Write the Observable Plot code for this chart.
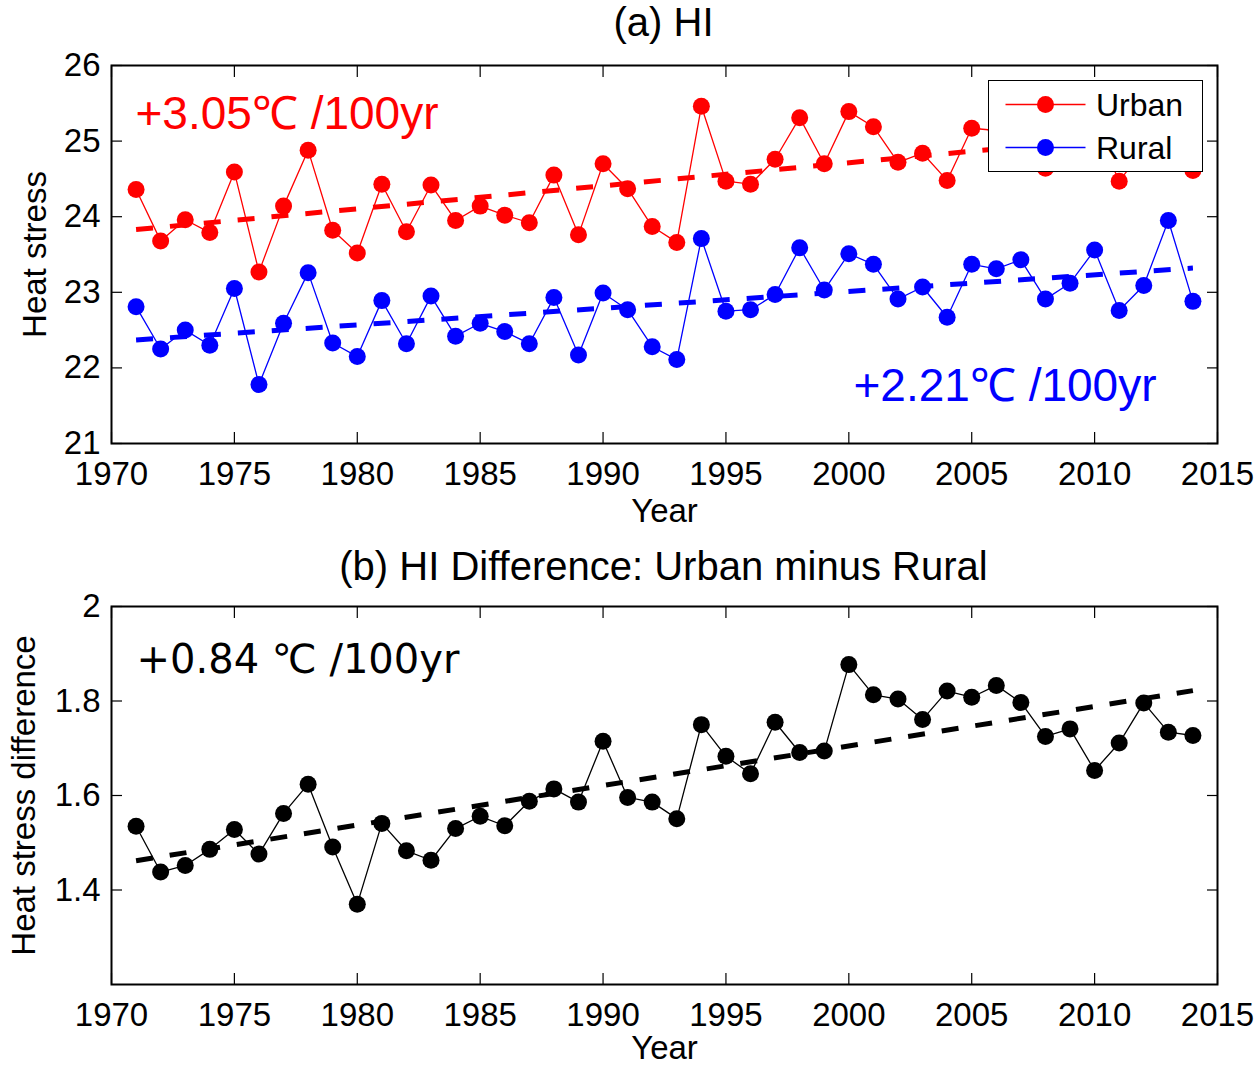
<!DOCTYPE html>
<html><head><meta charset="utf-8">
<script src="https://cdn.jsdelivr.net/npm/d3@7"></script>
<script src="https://cdn.jsdelivr.net/npm/@observablehq/plot@0.6"></script>
<style>
body{margin:0;background:#fff;}
#wrap{position:relative;width:1259px;height:1066px;font-family:"Liberation Sans",Arial,Helvetica,sans-serif;color:#000;}
.title{position:absolute;left:111px;width:1105px;text-align:center;font-size:40px;line-height:40px;white-space:nowrap;}
#pa{position:absolute;left:0;top:0;}
#pb{position:absolute;left:0;top:540px;}
#legend{position:absolute;left:988px;top:80px;width:215px;height:92px;box-sizing:border-box;border:1.5px solid #000;background:#fff;}
</style>
</head><body>
<div id="wrap">
  <div id="pa"></div>
  <div id="pb"></div>
  <div class="title" style="top:2px">(a) HI</div>
  <div class="title" style="top:546px">(b) HI Difference: Urban minus Rural</div>
  <div id="legend"></div>
</div>
<script>
const years = [1971,1972,1973,1974,1975,1976,1977,1978,1979,1980,
  1981,1982,1983,1984,1985,1986,1987,1988,1989,1990,
  1991,1992,1993,1994,1995,1996,1997,1998,1999,2000,
  2001,2002,2003,2004,2005,2006,2007,2008,2009,2010,
  2011,2012,2013,2014];
const urban = [24.36,23.68,23.96,23.79,24.59,23.27,24.14,24.88,23.82,23.52,
  24.43,23.80,24.42,23.95,24.14,24.02,23.92,24.55,23.76,24.70,
  24.37,23.87,23.66,25.46,24.47,24.43,24.76,25.31,24.70,25.39,
  25.19,24.72,24.84,24.48,25.17,25.14,25.23,24.64,24.86,25.21,
  24.47,24.89,25.68,24.61];
const rural = [22.81,22.25,22.50,22.30,23.05,21.78,22.59,23.26,22.33,22.15,
  22.89,22.32,22.95,22.42,22.59,22.48,22.32,22.93,22.17,22.99,
  22.77,22.28,22.11,23.71,22.75,22.77,22.97,23.59,23.03,23.51,
  23.37,22.91,23.07,22.67,23.37,23.31,23.43,22.91,23.12,23.56,
  22.76,23.09,23.95,22.88];
const diff = [1.535,1.438,1.452,1.486,1.528,1.476,1.562,1.624,1.491,1.370,
  1.541,1.483,1.463,1.530,1.556,1.536,1.588,1.614,1.586,1.715,
  1.596,1.586,1.551,1.750,1.683,1.646,1.755,1.691,1.694,1.877,
  1.813,1.804,1.761,1.821,1.808,1.833,1.797,1.725,1.741,1.653,
  1.711,1.796,1.734,1.727];
const trendYears = [1971, 2014];
const urbanTrend = [23.83, 25.14];
const ruralTrend = [22.37, 23.32];
const diffTrend = [1.462, 1.822];
const xTicks = [1970,1975,1980,1985,1990,1995,2000,2005,2010,2015];
const yTicksA = [21,22,23,24,25,26];
const yTicksB = [1.4,1.6,1.8,2];
const labelUrban = "+3.05\u2103 /100yr";
const labelRural = "+2.21\u2103 /100yr";
const labelDiff = "+0.84 \u2103 /100yr";
const seriesNames = ["Urban","Rural"];
const seriesColors = ["#ff0000","#0000ff"];

const rows = years.map((y,i)=>({year:y, urban:urban[i], rural:rural[i], diff:diff[i]}));
const trendRows = trendYears.map((y,i)=>({year:y, urban:urbanTrend[i], rural:ruralTrend[i], diff:diffTrend[i]}));

const FONT = '"Liberation Sans", Arial, Helvetica, sans-serif';
const fmt = d => String(d);

function axes(yTicks){
  return [
    Plot.axisX({anchor:"bottom", ticks:xTicks, tickSize:-11, tickPadding:29, tickFormat:fmt, label:null, fontSize:33, strokeWidth:1.2}),
    Plot.axisX({anchor:"top", ticks:xTicks, tickSize:-11, tickFormat:()=>"", label:null, strokeWidth:1.2}),
    Plot.axisY({anchor:"left", ticks:yTicks, tickSize:-11, tickPadding:22, tickFormat:fmt, label:null, fontSize:33, strokeWidth:1.2}),
    Plot.axisY({anchor:"right", ticks:yTicks, tickSize:-11, tickFormat:()=>"", label:null, strokeWidth:1.2}),
    Plot.frame({stroke:"#000", strokeWidth:2})
  ];
}

const A = Plot.plot({
  width:1259, height:540, marginLeft:111, marginRight:42, marginTop:65, marginBottom:97,
  x:{domain:[1970,2015]}, y:{domain:[21,26]},
  style:{fontFamily:FONT, fontSize:"33px", color:"#000", background:"#fff", overflow:"visible"},
  marks:[
    ...axes(yTicksA),
    Plot.line(rows,{x:"year", y:"urban", stroke:seriesColors[0], strokeWidth:1.3}),
    Plot.dot(rows,{x:"year", y:"urban", r:8.5, fill:seriesColors[0]}),
    Plot.line(rows,{x:"year", y:"rural", stroke:seriesColors[1], strokeWidth:1.3}),
    Plot.dot(rows,{x:"year", y:"rural", r:8.5, fill:seriesColors[1]}),
    Plot.line(trendRows,{x:"year", y:"urban", stroke:seriesColors[0], strokeWidth:5, strokeDasharray:"17,17", strokeLinecap:"butt"}),
    Plot.line(trendRows,{x:"year", y:"rural", stroke:seriesColors[1], strokeWidth:5, strokeDasharray:"17,17", strokeLinecap:"butt"}),
    Plot.text([labelUrban],{text:d=>d, frameAnchor:"top-left", dx:24, dy:63, textAnchor:"start", lineAnchor:"bottom", fill:seriesColors[0], fontSize:46}),
    Plot.text([labelRural],{text:d=>d, frameAnchor:"bottom-right", dx:-61, dy:-43, textAnchor:"end", lineAnchor:"bottom", fill:seriesColors[1], fontSize:46}),
    Plot.text(["Year"],{text:d=>d, frameAnchor:"bottom", dy:68, lineAnchor:"middle", textAnchor:"middle", fontSize:33}),
    Plot.text(["Heat stress"],{text:d=>d, frameAnchor:"left", dx:-76, rotate:-90, textAnchor:"middle", lineAnchor:"middle", fontSize:33})
  ]
});
document.getElementById("pa").appendChild(A);

const B = Plot.plot({
  width:1259, height:526, marginLeft:111, marginRight:42, marginTop:66, marginBottom:82,
  x:{domain:[1970,2015]}, y:{domain:[1.2,2.0]},
  style:{fontFamily:FONT, fontSize:"33px", color:"#000", background:"#fff", overflow:"visible"},
  marks:[
    ...axes(yTicksB),
    Plot.line(rows,{x:"year", y:"diff", stroke:"#000", strokeWidth:1.3}),
    Plot.dot(rows,{x:"year", y:"diff", r:8.5, fill:"#000"}),
    Plot.line(trendRows,{x:"year", y:"diff", stroke:"#000", strokeWidth:5, strokeDasharray:"17,17", strokeLinecap:"butt"}),
    Plot.text([labelDiff],{text:d=>d, frameAnchor:"top-left", dx:25, dy:66, textAnchor:"start", lineAnchor:"bottom", fill:"#000", fontSize:40, fontFamily:'"DejaVu Sans", sans-serif'}),
    Plot.text(["Year"],{text:d=>d, frameAnchor:"bottom", dy:64, lineAnchor:"middle", textAnchor:"middle", fontSize:33}),
    Plot.text(["Heat stress difference"],{text:d=>d, frameAnchor:"left", dx:-87, rotate:-90, textAnchor:"middle", lineAnchor:"middle", fontSize:33})
  ]
});
document.getElementById("pb").appendChild(B);

// legend
const leg = d3.select("#legend").append("svg").attr("width",212).attr("height",89).style("display","block");
seriesNames.forEach((name,i)=>{
  const yy = 23.5 + i*43;
  leg.append("line").attr("x1",16.5).attr("x2",96.5).attr("y1",yy).attr("y2",yy).attr("stroke",seriesColors[i]).attr("stroke-width",1.3);
  leg.append("circle").attr("cx",56.5).attr("cy",yy).attr("r",8.5).attr("fill",seriesColors[i]);
  leg.append("text").attr("x",107).attr("y",yy).attr("dy","0.35em").attr("font-size",32).attr("font-family",FONT).text(name);
});
</script>
</body></html>
